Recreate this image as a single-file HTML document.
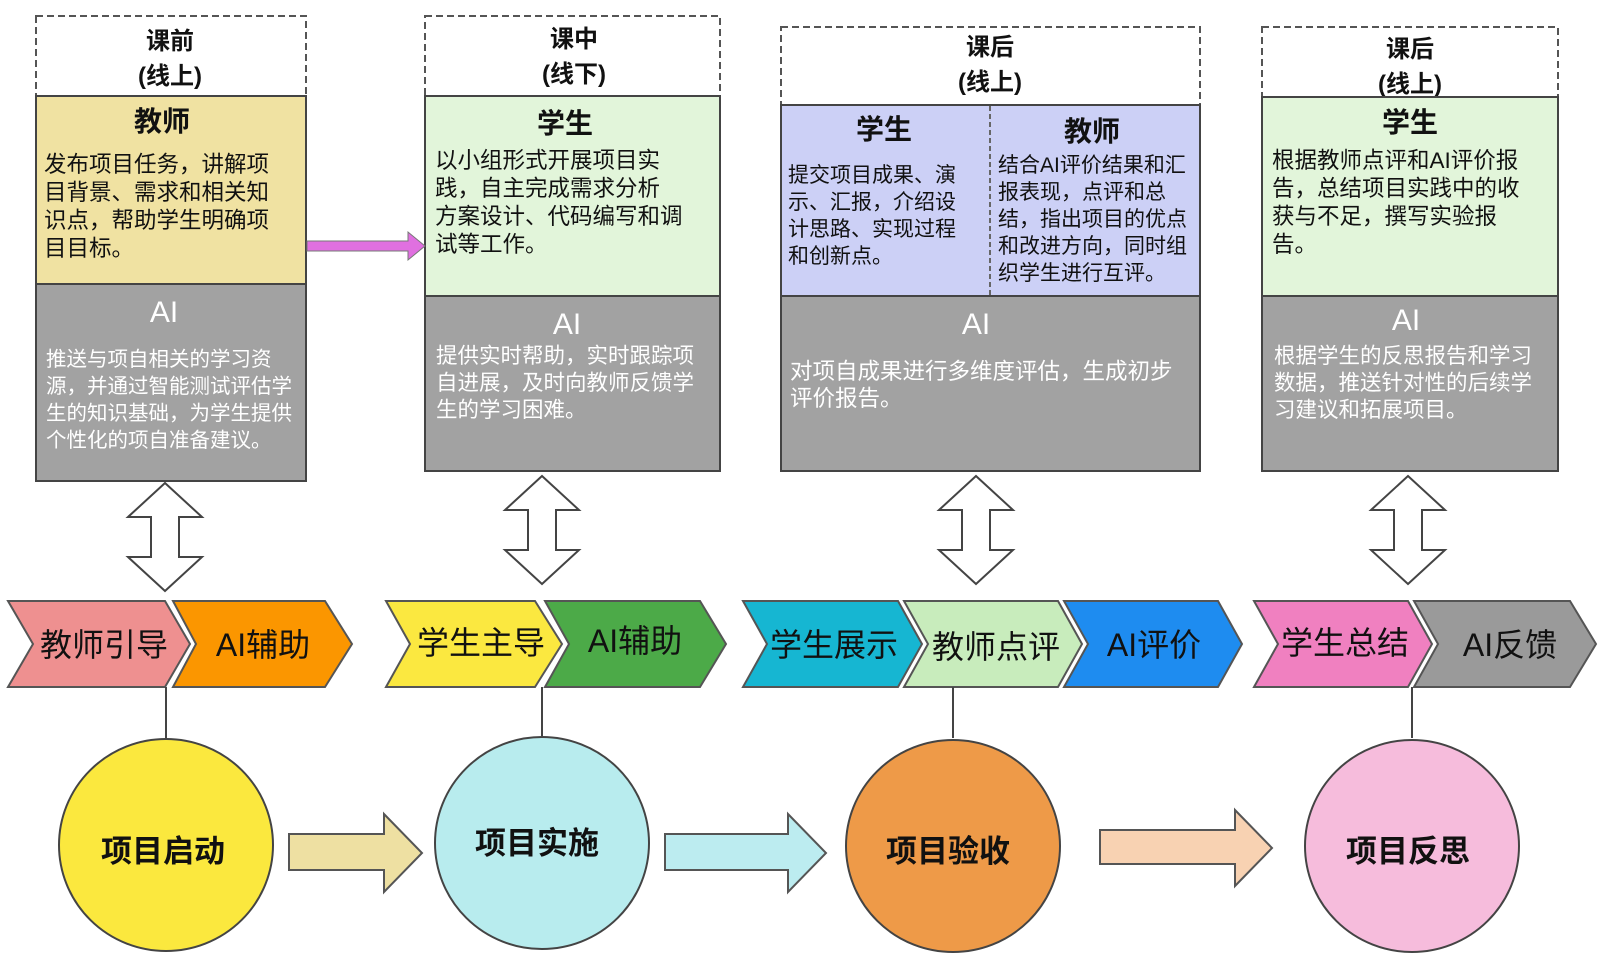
<!DOCTYPE html>
<html><head><meta charset="utf-8"><style>
body{margin:0;background:#fff}
svg{display:block}
text{font-family:"Liberation Sans","Noto Sans CJK SC",sans-serif}
.h{font-size:24px;font-weight:bold;fill:#111;text-anchor:middle}
.t{font-size:28px;font-weight:bold;fill:#111;text-anchor:middle}
.b{font-size:22.5px;fill:#111}
.ai{font-size:30px;fill:#fff;text-anchor:middle}
.w{font-size:20.5px;fill:#fff}
.c{font-size:32px;fill:#111;text-anchor:middle}
.o{font-size:31px;font-weight:bold;fill:#111;text-anchor:middle}
</style></head><body>
<svg width="1600" height="957" viewBox="0 0 1600 957">
<g stroke="#555" stroke-width="2" stroke-dasharray="7 4" fill="#fff">
<rect x="36" y="16" width="270" height="80"/>
<rect x="425" y="16" width="295" height="80"/>
<rect x="781" y="27" width="419" height="78"/>
<rect x="1262" y="27" width="296" height="70"/>
</g>
<text class="h" x="170" y="49">课前</text><text class="h" x="170" y="84">(线上)</text>
<text class="h" x="574" y="47">课中</text><text class="h" x="574" y="82">(线下)</text>
<text class="h" x="990" y="55">课后</text><text class="h" x="990" y="90">(线上)</text>
<text class="h" x="1410" y="57">课后</text><text class="h" x="1410" y="92">(线上)</text>

<g stroke="#444" stroke-width="2">
<rect x="36" y="96" width="270" height="188" fill="#f0e2a2"/>
<rect x="36" y="284" width="270" height="197" fill="#a2a2a2"/>
<rect x="425" y="96" width="295" height="200" fill="#e2f5da"/>
<rect x="425" y="296" width="295" height="175" fill="#a2a2a2"/>
<rect x="781" y="105" width="419" height="191" fill="#ccd0f6"/>
<rect x="781" y="296" width="419" height="175" fill="#a2a2a2"/>
<rect x="1262" y="97" width="296" height="199" fill="#e2f5da"/>
<rect x="1262" y="296" width="296" height="175" fill="#a2a2a2"/>
</g>
<line x1="990" y1="106" x2="990" y2="295" stroke="#666" stroke-width="2" stroke-dasharray="5 3"/>

<text class="t" x="162" y="131">教师</text>
<text class="b" x="44" y="172">发布项目任务，讲解项</text>
<text class="b" x="44" y="200">目背景、需求和相关知</text>
<text class="b" x="44" y="228">识点，帮助学生明确项</text>
<text class="b" x="44" y="256">目目标。</text>
<text class="ai" x="164" y="322">AI</text>
<text class="w" x="46" y="366">推送与项自相关的学习资</text>
<text class="w" x="46" y="393">源，并通过智能测试评估学</text>
<text class="w" x="46" y="420">生的知识基础，为学生提供</text>
<text class="w" x="46" y="447">个性化的项自准备建议。</text>

<text class="t" x="565" y="133">学生</text>
<text class="b" x="435" y="168">以小组形式开展项目实</text>
<text class="b" x="435" y="196">践，自主完成需求分析</text>
<text class="b" x="435" y="224">方案设计、代码编写和调</text>
<text class="b" x="435" y="252">试等工作。</text>
<text class="ai" x="567" y="334">AI</text>
<text class="w" x="436" y="363" style="font-size:21.5px">提供实时帮助，实时跟踪项</text>
<text class="w" x="436" y="390" style="font-size:21.5px">自进展，及时向教师反馈学</text>
<text class="w" x="436" y="417" style="font-size:21.5px">生的学习困难。</text>

<text class="t" x="884" y="139">学生</text>
<text class="b" x="788" y="182" style="font-size:21px">提交项目成果、演</text>
<text class="b" x="788" y="209" style="font-size:21px">示、汇报，介绍设</text>
<text class="b" x="788" y="236" style="font-size:21px">计思路、实现过程</text>
<text class="b" x="788" y="263" style="font-size:21px">和创新点。</text>
<text class="t" x="1092" y="141">教师</text>
<text class="b" x="998" y="172" style="font-size:21px">结合AI评价结果和汇</text>
<text class="b" x="998" y="199" style="font-size:21px">报表现，点评和总</text>
<text class="b" x="998" y="226" style="font-size:21px">结，指出项目的优点</text>
<text class="b" x="998" y="253" style="font-size:21px">和改进方向，同时组</text>
<text class="b" x="998" y="280" style="font-size:21px">织学生进行互评。</text>
<text class="ai" x="976" y="334">AI</text>
<text class="w" x="790" y="379" style="font-size:22.5px">对项自成果进行多维度评估，生成初步</text>
<text class="w" x="790" y="406" style="font-size:22.5px">评价报告。</text>

<text class="t" x="1410" y="132">学生</text>
<text class="b" x="1272" y="168">根据教师点评和AI评价报</text>
<text class="b" x="1272" y="196">告，总结项目实践中的收</text>
<text class="b" x="1272" y="224">获与不足，撰写实验报</text>
<text class="b" x="1272" y="252">告。</text>
<text class="ai" x="1406" y="330">AI</text>
<text class="w" x="1274" y="363" style="font-size:21.5px">根据学生的反思报告和学习</text>
<text class="w" x="1274" y="390" style="font-size:21.5px">数据，推送针对性的后续学</text>
<text class="w" x="1274" y="417" style="font-size:21.5px">习建议和拓展项目。</text>

<polygon points="307,241 408,241 408,232 425,246 408,260 408,251 307,251" fill="#e070e0" stroke="#777" stroke-width="1"/>

<defs>
<polygon id="da" points="0,-54 37,-20 14,-20 14,20 37,20 0,54 -37,20 -14,20 -14,-20 -37,-20" fill="#fff" stroke="#444" stroke-width="2"/>
</defs>
<use href="#da" x="165" y="537"/>
<use href="#da" x="542" y="530"/>
<use href="#da" x="976" y="530"/>
<use href="#da" x="1408" y="530"/>

<g stroke="#555" stroke-width="2">
<polygon points="8,601 165,601 190,644 165,687 8,687 33,644" fill="#ee9090"/>
<polygon points="173,601 325,601 352,644 325,687 173,687 196,644" fill="#fb9600"/>
<polygon points="386,601 535,601 562,644 535,687 386,687 410,644" fill="#fbe840"/>
<polygon points="545,601 700,601 726,644 700,687 545,687 569,644" fill="#4caa48"/>
<polygon points="743,601 898,601 922,644 898,687 743,687 767,644" fill="#16b6d2"/>
<polygon points="904,601 1058,601 1082,644 1058,687 904,687 928,644" fill="#c8ecbc"/>
<polygon points="1064,601 1218,601 1242,644 1218,687 1064,687 1088,644" fill="#1e8cf0"/>
<polygon points="1254,601 1408,601 1432,644 1408,687 1254,687 1278,644" fill="#f080c0"/>
<polygon points="1414,601 1570,601 1596,644 1570,687 1414,687 1438,644" fill="#9a9a9a"/>
</g>
<text class="c" x="104" y="656">教师引导</text>
<text class="c" x="263" y="656">AI辅助</text>
<text class="c" x="481" y="654">学生主导</text>
<text class="c" x="635" y="652">AI辅助</text>
<text class="c" x="834" y="656">学生展示</text>
<text class="c" x="996" y="658">教师点评</text>
<text class="c" x="1154" y="656">AI评价</text>
<text class="c" x="1345" y="654">学生总结</text>
<text class="c" x="1510" y="656">AI反馈</text>

<g stroke="#444" stroke-width="2">
<line x1="166" y1="687" x2="166" y2="738"/>
<line x1="542" y1="687" x2="542" y2="736"/>
<line x1="953" y1="687" x2="953" y2="738"/>
<line x1="1412" y1="687" x2="1412" y2="738"/>
<ellipse cx="166" cy="845" rx="107" ry="106" fill="#fbe83e"/>
<ellipse cx="542" cy="843" rx="107" ry="106" fill="#b8ecee"/>
<ellipse cx="953" cy="846" rx="107" ry="106" fill="#ee9a48"/>
<ellipse cx="1412" cy="846" rx="107" ry="106" fill="#f6bcdc"/>
</g>
<text class="o" x="163" y="862">项目启动</text>
<text class="o" x="537" y="854">项目实施</text>
<text class="o" x="948" y="862">项目验收</text>
<text class="o" x="1408" y="862">项目反思</text>

<g stroke="#555" stroke-width="2">
<polygon points="289,834 384,834 384,814 422,853 384,892 384,870 289,870" fill="#eee0a2"/>
<polygon points="665,834 788,834 788,814 826,853 788,892 788,870 665,870" fill="#bcecf0"/>
<polygon points="1100,830 1235,830 1235,810 1272,848 1235,886 1235,864 1100,864" fill="#f8d2b2"/>
</g>
</svg>
</body></html>
